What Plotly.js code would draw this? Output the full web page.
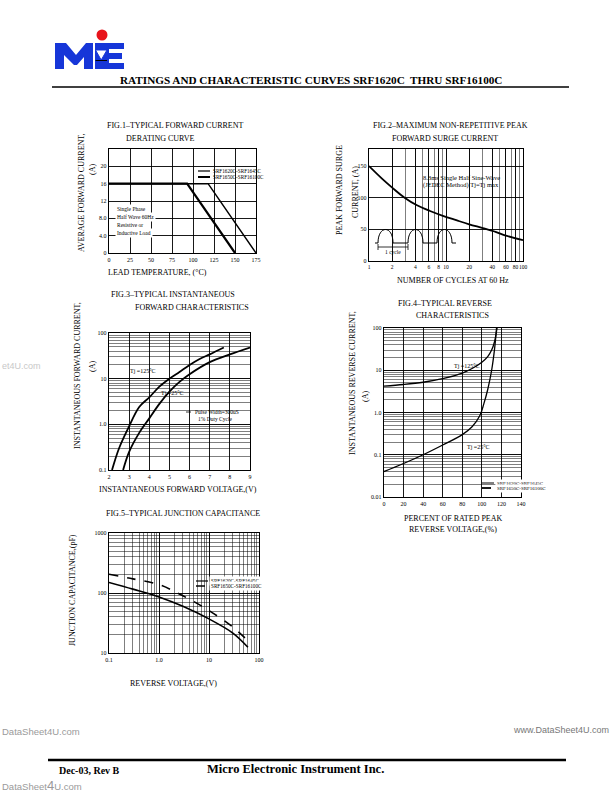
<!DOCTYPE html>
<html>
<head>
<meta charset="utf-8">
<script src="https://cdn.plot.ly/plotly-3.0.1.min.js"></script>
<style>
html, body { margin: 0; padding: 0; background: #fff; }
#page { width: 612px; height: 792px; }
</style>
</head>
<body>
<div id="page"></div>
<script>
// fig.1 derating
const derateTempA = [0, 93, 150];
const derateAmpA = [16, 16, 0];
const derateTempB = [0, 118, 175];
const derateAmpB = [16, 16, 0];
const derateTickX = [0, 25, 50, 75, 100, 125, 150, 175];
const derateTickY = [0, 4, 8, 12, 16, 20];
const derateTickYText = ["0", "4.0", "8.0", "12", "16", "20"];

// fig.2 surge
const surgeCycles = [1, 1.45, 2, 2.9, 4.2, 6.2, 9.3, 13.6, 20, 30, 44, 60, 100];
const surgeAmps = [150, 131, 116, 100, 88, 79, 71, 64.5, 58, 52, 46, 40, 33];
const surgeTickX = [1, 2, 4, 6, 8, 10, 20, 40, 60, 80, 100];
const surgeTickY = [0, 50, 100, 150];

// fig.3 forward characteristics
const vfHot = [2.15, 2.5, 2.95, 3.5, 4.0, 4.5, 5.0, 5.5, 6.0, 6.5, 7.0, 7.7];
const ifHot = [0.1, 0.3, 0.82, 2.4, 3.9, 6.7, 10, 14, 20, 27, 34, 48];
const vfCold = [2.7, 3.0, 3.5, 4.0, 4.5, 5.0, 5.5, 6.0, 7.0, 8.0, 9.0];
const ifCold = [0.1, 0.25, 0.65, 1.35, 2.8, 5.2, 8.5, 12.5, 23, 34, 48];
const fwdTickY = [0.1, 1, 10, 100];
const fwdTickYText = ["0.1", "1.0", "10", "100"];

// fig.4 reverse characteristics
const pctHot = [0, 20, 40, 60, 80, 90, 100, 106, 110, 113, 115.5];
const irHot = [4.2, 4.6, 5.2, 6.3, 8.6, 11, 15.5, 21, 30, 48, 100];
const pctCold = [0, 20, 40, 60, 80, 90, 98, 102, 106, 110, 113, 115];
const irCold = [0.04, 0.062, 0.1, 0.17, 0.3, 0.46, 0.85, 1.6, 3.5, 10, 32, 100];
const revTickY = [0.01, 0.1, 1, 10, 100];
const revTickYText = ["0.01", "0.1", "1.0", "10", "100"];

// fig.5 junction capacitance
const vrCap = [0.1, 0.3, 1, 3, 10, 30, 60];
const cjHigh = [205, 172, 138, 90, 51, 27, 16];   // SRF1650C-SRF16100C
const cjLow = [150, 116, 86, 60, 37, 21.5, 12.5];  // SRF1620C-SRF1645C
const capTickX = [0.1, 1, 10, 100];
const capTickXText = ["0.1", "1.0", "10", "100"];
const capTickY = [10, 100, 1000];

const FONT = "Liberation Serif, DejaVu Serif, serif";
const WM = "Liberation Sans, Arial, sans-serif";
const W = 612, H = 792;
const px = x => x / W;
const py = y => 1 - y / H;
const dx = (a, b) => [px(a), px(b)];
const dy = (top, bot) => [py(bot), py(top)];

function pagePath(str) {
    return str.replace(/(-?\d+\.?\d*),(-?\d+\.?\d*)/g,
        (m, x, y) => px(+x).toFixed(5) + "," + py(+y).toFixed(5));
}

function txt(text, x, y, o) {
    return Object.assign({
        xref: "paper", yref: "paper", x: px(x), y: py(y), text: text,
        showarrow: false, xanchor: "center", yanchor: "middle",
        font: { family: FONT, size: 8, color: "#000" }
    }, o || {});
}
const small = (s) => ({ family: FONT, size: s || 5.5, color: "#000" });

function line(x0, y0, x1, y1, w, dash) {
    return {
        type: "line", xref: "paper", yref: "paper",
        x0: px(x0), y0: py(y0), x1: px(x1), y1: py(y1),
        line: { color: "#000", width: w || 1, dash: dash || "solid" }
    };
}

const axBase = {
    showline: true, mirror: true, linecolor: "#000", linewidth: 1.3,
    showgrid: true, gridcolor: "#000", gridwidth: 0.9,
    zeroline: false, ticks: "", fixedrange: true, tickangle: 0,
    tickfont: { family: FONT, size: 6, color: "#000" }
};
const minorGrid = { showgrid: true, dtick: "D1", gridcolor: "#000", gridwidth: 0.5, ticks: "" };

function curve(x, y, n, w, dash) {
    return {
        x: x, y: y, xaxis: "x" + (n === 1 ? "" : n), yaxis: "y" + (n === 1 ? "" : n),
        type: "scatter", mode: "lines", showlegend: false, hoverinfo: "skip",
        line: { color: "#000", width: w || 1.6, shape: "spline", dash: dash || "solid" }
    };
}

const traces = [
    Object.assign(curve(derateTempA, derateAmpA, 1), { line: { color: "#000", width: 2.2 } }),
    Object.assign(curve(derateTempB, derateAmpB, 1), { line: { color: "#000", width: 1.5 } }),
    curve(surgeCycles, surgeAmps, 2, 1.8),
    curve(vfHot, ifHot, 3, 1.8),
    curve(vfCold, ifCold, 3, 1.8),
    curve(pctHot, irHot, 4, 1.3),
    curve(pctCold, irCold, 4, 1.3),
    curve(vrCap, cjHigh, 5, 1.6, "dash"),
    curve(vrCap, cjLow, 5, 1.6)
];

const layout = {
    width: W, height: H,
    margin: { l: 0, r: 0, t: 0, b: 0 },
    paper_bgcolor: "#fff", plot_bgcolor: "#fff",
    showlegend: false,
    font: { family: FONT, color: "#000" },

    xaxis: Object.assign({}, axBase, { domain: dx(109, 256), anchor: "y", range: [0, 175],
        tickmode: "array", tickvals: derateTickX }),
    yaxis: Object.assign({}, axBase, { domain: dy(149, 253), anchor: "x", range: [0, 24],
        tickmode: "array", tickvals: derateTickY, ticktext: derateTickYText }),

    xaxis2: Object.assign({}, axBase, { domain: dx(369, 523), anchor: "y2", type: "log", range: [0, 2],
        tickmode: "array", tickvals: surgeTickX, minor: minorGrid,
        tickfont: { family: FONT, size: 5.5, color: "#000" } }),
    yaxis2: Object.assign({}, axBase, { domain: dy(149, 261), anchor: "x2", range: [0, 177],
        tickmode: "array", tickvals: surgeTickY }),

    xaxis3: Object.assign({}, axBase, { domain: dx(109, 250), anchor: "y3", range: [2, 9], dtick: 1 }),
    yaxis3: Object.assign({}, axBase, { domain: dy(333, 470), anchor: "x3", type: "log", range: [-1, 2],
        tickmode: "array", tickvals: fwdTickY, ticktext: fwdTickYText, minor: minorGrid }),

    xaxis4: Object.assign({}, axBase, { domain: dx(384, 521), anchor: "y4", range: [0, 140], dtick: 20 }),
    yaxis4: Object.assign({}, axBase, { domain: dy(328, 497), anchor: "x4", type: "log", range: [-2, 2],
        tickmode: "array", tickvals: revTickY, ticktext: revTickYText, minor: minorGrid }),

    xaxis5: Object.assign({}, axBase, { domain: dx(109, 259), anchor: "y5", type: "log", range: [-1, 2],
        tickmode: "array", tickvals: capTickX, ticktext: capTickXText, minor: minorGrid }),
    yaxis5: Object.assign({}, axBase, { domain: dy(533, 653), anchor: "x5", type: "log", range: [1, 3],
        tickmode: "array", tickvals: capTickY, minor: minorGrid }),

    shapes: [
        // header / footer rules
        line(52, 87, 569, 87, 1.5),
        line(48, 760, 566, 760, 2.5),
        // logo
        { type: "circle", xref: "paper", yref: "paper", x0: px(96.5), x1: px(107.5), y0: py(40.5), y1: py(29.5),
          fillcolor: "#e8141b", line: { width: 0 } },
        { type: "path", xref: "paper", yref: "paper", fillcolor: "#1636d8", line: { width: 0 },
          path: pagePath("M 55,69 L 55,43 L 66,43 L 76,55 L 86,43 L 93,43 L 93,69 L 84,69 L 84,57 L 77,65 L 74,65 L 64,55 L 64,69 Z") },
        { type: "path", xref: "paper", yref: "paper", fillcolor: "#1636d8", line: { width: 0 },
          path: pagePath("M 95,43 L 124,43 L 124,49 L 109,49 L 109,53 L 122,53 L 122,59 L 109,59 L 109,63 L 124,63 L 124,69 L 95,69 Z") },
        { type: "path", xref: "paper", yref: "paper", fillcolor: "#fff", line: { color: "#1636d8", width: 1 },
          path: pagePath("M 95.5,50 L 107,50 L 101.2,60 Z") },
        line(95.5, 60.5, 107, 60.5, 1),
        // fig.2 waveform sketch
        { type: "path", xref: "paper", yref: "paper", line: { color: "#000", width: 1 },
          path: pagePath("M 375,243 L 378,243 C 378,225 393,225 393,243 L 408,243 C 408,225 423,225 423,243 L 437,243 C 437,225 452,225 452,243 L 456,243") },
        line(378, 247, 408, 247, 0.8),
        line(378, 244, 378, 250, 0.8),
        line(408, 244, 408, 250, 0.8),
        // fig.3 pulse note tick
        line(186, 412, 191, 412, 0.8),
        // fig.1 legend samples
        line(198, 171, 210, 171, 1.2),
        line(198, 177, 210, 177, 2),
        // fig.4 legend samples
        line(482, 483, 494, 483, 1),
        line(482, 488, 494, 488, 1.8, "dash"),
        // fig.5 legend samples
        line(196, 581, 208, 581, 1.2),
        line(196, 586, 208, 586, 1.5, "dash")
    ],

    annotations: [
        // header
        txt("<b>RATINGS AND CHARACTERISTIC CURVES SRF1620C&nbsp; THRU SRF16100C</b>", 311, 80,
            { font: { family: FONT, size: 11.2, color: "#000" } }),
        // footer
        txt("<b>Dec-03, Rev B</b>", 57, 770, { xanchor: "left", font: { family: FONT, size: 10, color: "#000" } }),
        txt("<b>Micro Electronic Instrument Inc.</b>", 295, 769, { font: { family: FONT, size: 12.5, color: "#000" } }),
        txt("DataSheet4U.com", 0, 731, { xanchor: "left", font: { family: WM, size: 9.5, color: "#9a9a9a" } }),
        txt("www.DataSheet4U.com", 611, 730, { xanchor: "right", font: { family: WM, size: 9, color: "#777" } }),
        txt("DataSheet<span style='font-size:13px'>4</span>U.com", 0, 785, { xanchor: "left", font: { family: WM, size: 9.5, color: "#9a9a9a" } }),
        txt("et4U.com", 0, 366, { xanchor: "left", font: { family: WM, size: 9, color: "#c8c8c8" } }),

        // fig.1
        txt("FIG.1–TYPICAL FORWARD CURRENT", 175, 125),
        txt("DERATING CURVE", 160, 138),
        txt("AVERAGE FORWARD CURRENT,", 81, 193, { textangle: -90 }),
        txt("(A)", 92, 170, { textangle: -90 }),
        txt("LEAD TEMPERATURE, (°C)", 157, 272),
        txt("Single Phase", 115, 209, { xanchor: "left", bgcolor: "#fff", font: small() }),
        txt("Half Wave 60Hz", 115, 217, { xanchor: "left", bgcolor: "#fff", font: small() }),
        txt("Resistive or", 115, 225, { xanchor: "left", bgcolor: "#fff", font: small() }),
        txt("Inductive Load", 115, 233, { xanchor: "left", bgcolor: "#fff", font: small() }),
        txt("SRF1620C-SRF1645C", 211, 171, { xanchor: "left", font: small(5.2) }),
        txt("SRF1650C-SRF16100C", 211, 177, { xanchor: "left", font: small(5.2) }),

        // fig.2
        txt("FIG.2–MAXIMUM NON-REPETITIVE PEAK", 450, 125),
        txt("FORWARD SURGE CURRENT", 445, 138),
        txt("PEAK FORWARD SURGE", 340, 190, { textangle: -90 }),
        txt("CURRENT, (A)", 355, 192, { textangle: -90 }),
        txt("NUMBER OF CYCLES AT 60 Hz", 453, 280),
        txt("8.3ms Single Half Sine-Wave", 421, 177, { xanchor: "left", font: small(6.5) }),
        txt("(JEDEC Method) Tj=Tj max", 421, 185, { xanchor: "left", font: small(6.5) }),
        txt("1 cycle", 393, 252, { font: small() }),

        // fig.3
        txt("FIG.3–TYPICAL INSTANTANEOUS", 173, 295),
        txt("FORWARD CHARACTERISTICS", 192, 307),
        txt("INSTANTANEOUS FORWARD CURRENT,", 78, 376, { textangle: -90 }),
        txt("(A)", 92, 367, { textangle: -90 }),
        txt("INSTANTANEOUS FORWARD VOLTAGE,(V)", 178, 489),
        txt("Tj =125°C", 143, 371, { font: small(6) }),
        txt("Tj =25°C", 172, 393, { font: small(6) }),
        txt("Pulse Width=300uS", 193, 412, { xanchor: "left", font: small() }),
        txt("1% Duty Cycle", 196, 419, { xanchor: "left", font: small() }),

        // fig.4
        txt("FIG.4–TYPICAL REVERSE", 445, 303),
        txt("CHARACTERISTICS", 452, 315),
        txt("INSTANTANEOUS REVERSE CURRENT,", 352, 383, { textangle: -90 }),
        txt("(A)", 365, 397, { textangle: -90 }),
        txt("PERCENT OF RATED PEAK", 453, 518),
        txt("REVERSE VOLTAGE,(%)", 453, 529),
        txt("Tj =125°C", 452, 366, { xanchor: "left", font: small(6) }),
        txt("Tj =25°C", 465, 447, { xanchor: "left", font: small(6) }),
        txt("SRF1620C-SRF1645C", 495, 483, { xanchor: "left", bgcolor: "#fff", font: small(5) }),
        txt("SRF1650C-SRF16100C", 495, 488, { xanchor: "left", bgcolor: "#fff", font: small(5) }),

        // fig.5
        txt("FIG.5–TYPICAL JUNCTION CAPACITANCE", 183, 513),
        txt("JUNCTION CAPACITANCE,(pF)", 72, 590, { textangle: -90 }),
        txt("REVERSE VOLTAGE,(V)", 173, 683),
        txt("SRF1620C-SRF1645C", 209, 581, { xanchor: "left", bgcolor: "#fff", font: small(5.2) }),
        txt("SRF1650C-SRF16100C", 209, 586, { xanchor: "left", bgcolor: "#fff", font: small(5.2) })
    ]
};

Plotly.newPlot("page", traces, layout, { staticPlot: true, displayModeBar: false });
</script>
</body>
</html>
